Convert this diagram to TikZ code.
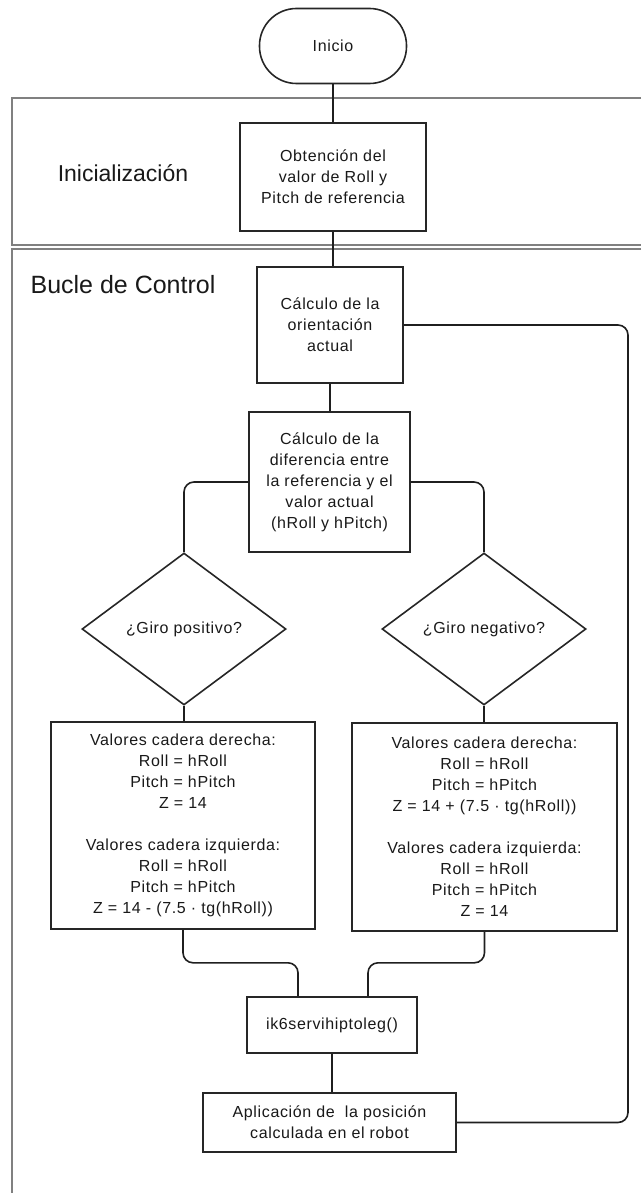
\documentclass[tikz,border=0pt]{standalone}
\usepackage{fontspec}
\setmainfont{Liberation Sans}
\newfontfamily\boxfont[LetterSpace=4]{Liberation Sans}
\usetikzlibrary{shapes.geometric,calc}

\begin{document}
\begin{tikzpicture}[x=1pt,y=-1pt,
  lane/.style={draw=black!50, line width=1.4pt},
  proc/.style={draw=black!85, line width=1.6pt, fill=white, align=center,
    inner sep=0pt, text=black!90, font=\boxfont\fontsize{16}{21}\selectfont},
  term/.style={proc, rounded corners=37pt},
  decision/.style={proc, diamond, minimum width=204pt, minimum height=152pt},
  link/.style={draw=black!88, line width=1.6pt, rounded corners=10pt},
  lanelabel/.style={text=black!90, inner sep=0pt}
]
\useasboundingbox (0,0) rectangle (641,1193);

% swim lanes
\draw[lane] (641,98) -- (12,98) -- (12,245) -- (641,245);
\draw[lane] (641,249) -- (12,249) -- (12,1193);
\node[lanelabel, font=\fontsize{23}{27}\selectfont] (lblinit) at (123,173) {Inicialización};
\node[lanelabel, font=\fontsize{25}{29}\selectfont] (lblloop) at (123,285) {Bucle de Control};

% flow nodes
\node[term, minimum width=147pt, minimum height=75pt] (start) at (333,46) {Inicio};
\node[proc, minimum width=186pt, minimum height=108pt] (obt) at (333,177)
  {Obtención del\\valor de Roll y\\Pitch de referencia};
\node[proc, minimum width=146pt, minimum height=116pt] (orient) at (330,325)
  {Cálculo de la\\orientación\\actual};
\node[proc, minimum width=161pt, minimum height=140pt] (diff) at (329.5,482)
  {Cálculo de la\\diferencia entre\\la referencia y el\\valor actual\\(hRoll y hPitch)};
\node[decision] (dpos) at (184,629) {¿Giro positivo?};
\node[decision] (dneg) at (484,629) {¿Giro negativo?};
\node[proc, minimum width=264pt, minimum height=207pt] (lbox) at (183,825.5)
  {Valores cadera derecha:\\Roll = hRoll\\Pitch = hPitch\\Z = 14\\[21pt]
   Valores cadera izquierda:\\Roll = hRoll\\Pitch = hPitch\\Z = 14 - (7.5 · tg(hRoll))};
\node[proc, minimum width=265pt, minimum height=208pt] (rbox) at (484.5,827)
  {Valores cadera derecha:\\Roll = hRoll\\Pitch = hPitch\\Z = 14 + (7.5 · tg(hRoll))\\[21pt]
   Valores cadera izquierda:\\Roll = hRoll\\Pitch = hPitch\\Z = 14};
\node[proc, minimum width=170pt, minimum height=56pt] (ik) at (332,1025) {ik6servihiptoleg()};
\node[proc, minimum width=253pt, minimum height=59pt] (apl) at (329.5,1122.5)
  {Aplicación de~ la posición\\calculada en el robot};

% connectors
\coordinate (rail) at (628,0);
\draw[link] (start.south) -- (start.south |- obt.north);
\draw[link] (obt.south) -- (obt.south |- orient.north);
\draw[link] (orient.south) -- (orient.south |- diff.north);
\draw[link] (diff.west) -| (dpos.north);
\draw[link] (diff.east) -| (dneg.north);
\draw[link] (dpos.south) -- (dpos.south |- lbox.north);
\draw[link] (dneg.south) -- (dneg.south |- rbox.north);
\draw[link] (lbox.south) -- ++(0,33) -| ([xshift=-34pt]ik.north);
\draw[link] (rbox.south) -- ++(0,31) -| ([xshift=36pt]ik.north);
\draw[link] (ik.south) -- (ik.south |- apl.north);
\draw[link] (apl.east) -- (apl.east -| rail) -- (orient.east -| rail) -- (orient.east);
\end{tikzpicture}
\end{document}
